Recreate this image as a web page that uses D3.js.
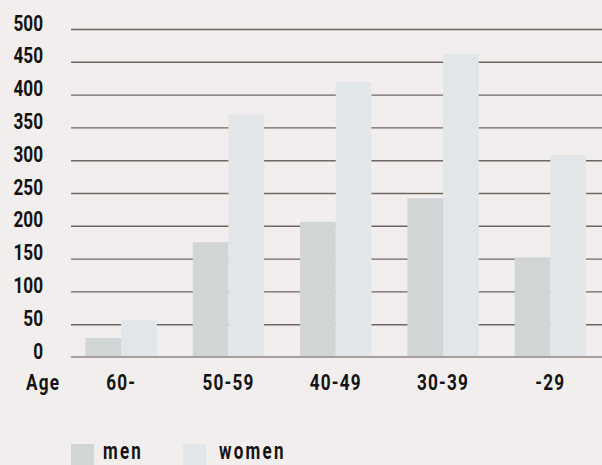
<!DOCTYPE html>
<html><head><meta charset="utf-8">
<script src="https://cdn.jsdelivr.net/npm/d3@7"></script>
<style>
html,body{margin:0;padding:0;background:#f1eeed;}
text{font-family:Roboto,"Liberation Sans",sans-serif;font-weight:bold;fill:#141212;}
</style></head>
<body>
<svg id="c" width="602" height="465"></svg>
<script>
const categories = ["60-", "50-59", "40-49", "30-39", "-29"];
const seriesNames = ["men", "women"];
const men = [29, 175, 206, 242, 152];
const women = [56, 370, 419, 462, 308];
const yTicks = [0, 50, 100, 150, 200, 250, 300, 350, 400, 450, 500];
const colors = {men: "#d2d5d6", women: "#e2e6e9"};

const SX = 0.78;
const svg = d3.select("#c");
const y = d3.scaleLinear().domain([0, 500]).range([357, 29]);
const x0 = d3.scaleBand().domain(categories).range([67.5, 604]).paddingInner(0.335).paddingOuter(0.1675);
const x1 = d3.scaleBand().domain(seriesNames).range([0, x0.bandwidth()]);

// grid lines
const yAxis = d3.axisLeft(y).tickValues(yTicks).tickSize(-(602 - 71)).tickFormat("");
const gGrid = svg.append("g").attr("transform", "translate(71,0)").call(yAxis);
gGrid.select(".domain").remove();
gGrid.selectAll(".tick line").attr("stroke", "#6f6764").attr("stroke-width", 1.4);
gGrid.selectAll(".tick").filter(d => d === 0).remove();

// bars
const data = categories.map((c, i) => ({cat: c, men: men[i], women: women[i]}));
const groups = svg.append("g").selectAll("g").data(data).join("g")
  .attr("transform", d => `translate(${x0(d.cat)},0)`);
groups.selectAll("rect").data(d => seriesNames.map(k => ({k, v: d[k]}))).join("rect")
  .attr("x", d => x1(d.k)).attr("width", x1.bandwidth())
  .attr("y", d => y(d.v)).attr("height", d => y(0) - y(d.v))
  .attr("fill", d => colors[d.k]);

// baseline
svg.append("line").attr("x1", 71).attr("x2", 602).attr("y1", y(0)).attr("y2", y(0))
  .attr("stroke", "#a7a09e").attr("stroke-width", 2);

// y labels
svg.append("g").selectAll("text").data(yTicks).join("text")
  .attr("transform", d => `translate(43,${y(d) + 1.5}) scale(${SX},1)`)
  .attr("text-anchor", "end")
  .attr("font-size", 22).text(d => d);

// x labels
svg.append("g").selectAll("text").data(categories).join("text")
  .attr("transform", d => `translate(${x0(d) + x0.bandwidth() / 2},389.5) scale(${SX},1)`)
  .attr("text-anchor", "middle")
  .attr("font-size", 22).style("letter-spacing", "1.5px").text(d => d);
svg.append("text").attr("transform", `translate(26,389.5) scale(${SX},1)`)
  .attr("font-size", 22).style("letter-spacing", "1.5px").text("Age");

// legend
const legX = [71, 183];
const leg = svg.append("g").selectAll("g").data(seriesNames).join("g")
  .attr("transform", (d, i) => `translate(${legX[i]},444)`);
leg.append("rect").attr("width", 23).attr("height", 24).attr("fill", d => colors[d]);
leg.append("text").attr("transform", d => `translate(${d === "men" ? 32 : 36},15) scale(0.74,1)`)
  .attr("font-size", 23).style("letter-spacing", "3px").text(d => d);
</script>
</body></html>
